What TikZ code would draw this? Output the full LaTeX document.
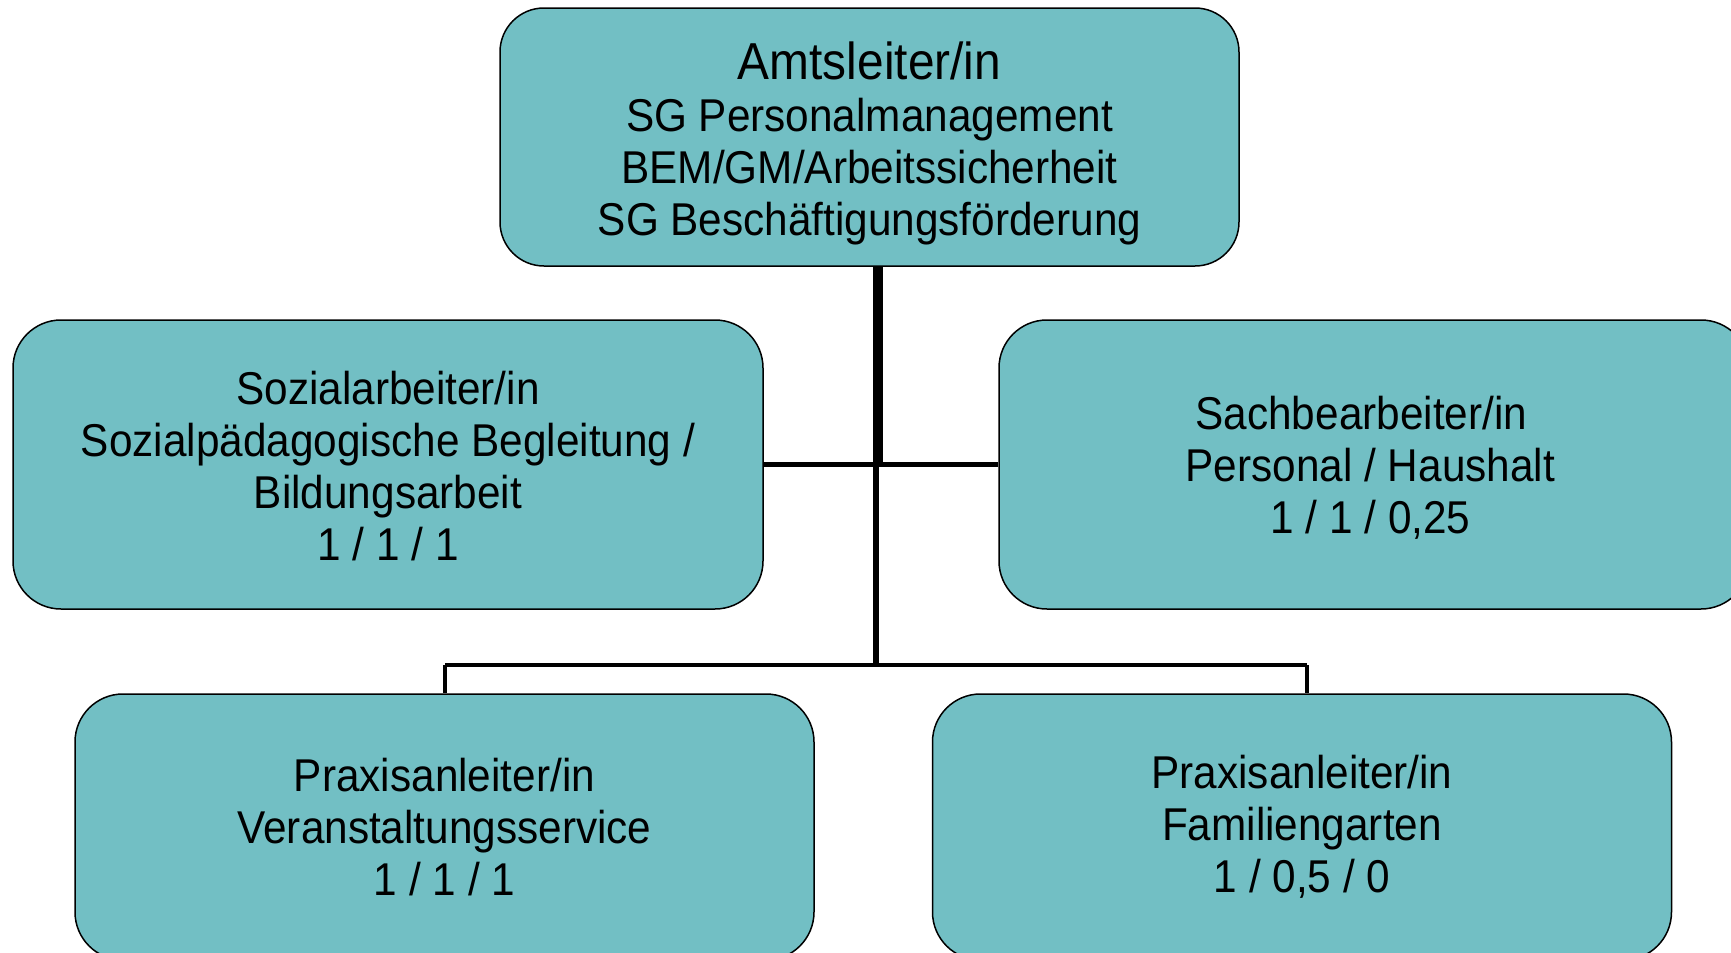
\documentclass[tikz,border=0pt]{standalone}
\usepackage{fontspec}
\setmainfont{Liberation Sans}[FakeStretch=0.92]
\definecolor{boxfill}{RGB}{114,191,196}
\begin{document}
\begin{tikzpicture}[x=0.5pt,y=-0.5pt,
  orgbox/.style={draw=black,line width=0.75pt,fill=boxfill,rounded corners=24pt,inner sep=0pt},
  orgtext/.style={align=center,inner sep=0pt,font=\fontsize{23}{26}\selectfont},
  thickline/.style={line width=4.75pt},
  midline/.style={line width=2.5pt},
  thinline/.style={line width=2pt}]
\useasboundingbox (0,0) rectangle (1731,953);
\clip (0,0) rectangle (1731,953);
\node[orgbox,rounded corners=22pt,minimum width=369.5pt,minimum height=129pt] (top) at (869.5,137) {};
\node[orgtext] (toptext) at ([yshift=-3pt]top.center)
  {{\fontsize{26}{30}\selectfont Amtsleiter/in}\\[0pt]SG Personalmanagement\\BEM/GM/Arbeitssicherheit\\SG Besch\"aftigungsf\"orderung};
\node[orgbox,minimum width=375pt,minimum height=144.5pt] (sa) at (388,464.5) {};
\node[orgtext] (satext) at ([yshift=-1pt]sa.center)
  {Sozialarbeiter/in\\Sozialp\"adagogische Begleitung /\\Bildungsarbeit\\1 / 1 / 1};
\node[orgbox,minimum width=375pt,minimum height=144.5pt] (sb) at (1374,464.5) {};
\node[orgtext] (sbtext) at ([xshift=-1.8pt,yshift=-1.6pt]sb.center)
  {Sachbearbeiter/in\hspace*{9pt}\\Personal / Haushalt\\1 / 1 / 0,25};
\node[orgbox,minimum width=369.5pt,minimum height=133pt] (pl) at (444.5,827) {};
\node[orgtext] (pltext) at (pl.center)
  {Praxisanleiter/in\\Veranstaltungsservice\\1 / 1 / 1};
\node[orgbox,minimum width=369.5pt,minimum height=133pt] (pr) at (1302,827) {};
\node[orgtext] (prtext) at (pr.center)
  {Praxisanleiter/in\\Familiengarten\\1 / 0,5 / 0};
\coordinate (j1) at (878,464);
\coordinate (j2) at (876,665);
\coordinate (jl) at (445,665);
\coordinate (jr) at (1307,665);
\draw[midline] (sa.east) -- (sb.west);
\draw[thickline] (top.south -| j1) -- (j1);
\draw[midline,line width=3pt] (j1 -| j2) -- (j2);
\draw[thinline,line width=2.25pt] (jl) -- (jr);
\draw[thinline] (jl) -- (pl.north -| jl);
\draw[thinline] (jr) -- (pr.north -| jr);
\end{tikzpicture}
\end{document}
